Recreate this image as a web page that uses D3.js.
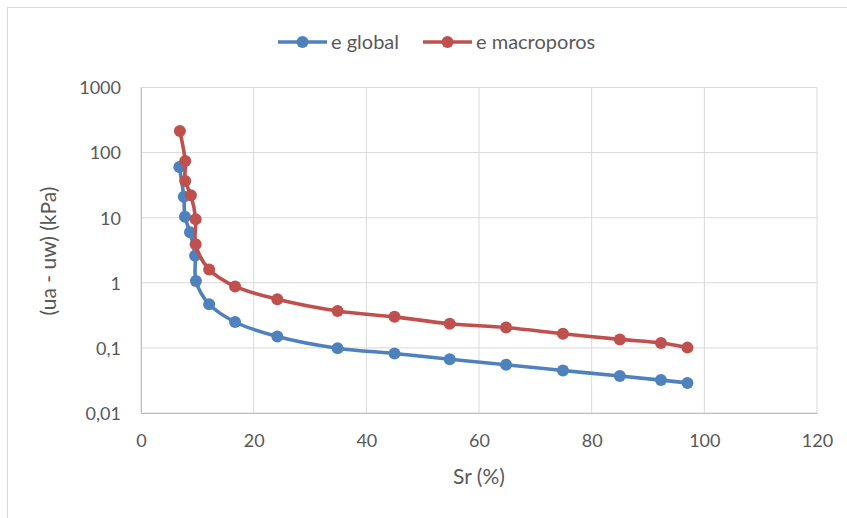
<!DOCTYPE html>
<html><head><meta charset="utf-8">
<script src="https://cdn.jsdelivr.net/npm/d3@7"></script>
<style>body{margin:0;background:#fff}svg{display:block}text{font-family:Lato,"Open Sans",sans-serif;fill:#595959}</style>
</head><body><svg id="c" width="847" height="518"></svg>
<script>
const seriesNames = ["e global", "e macroporos"];
const seriesColors = ["#4F81BD", "#C0504D"];
const srGlobal = [6.8, 7.6, 7.8, 8.7, 9.6, 9.75, 12.1, 16.7, 24.2, 34.9, 45.0, 54.8, 64.8, 74.9, 85.0, 92.3, 97.0];
const suctionGlobal = [60, 21, 10.3, 6.0, 2.6, 1.07, 0.47, 0.25, 0.15, 0.099, 0.082, 0.067, 0.055, 0.045, 0.037, 0.032, 0.029];
const srMacro = [6.9, 7.85, 7.85, 8.86, 9.7, 9.7, 12.1, 16.7, 24.2, 34.9, 45.0, 54.8, 64.8, 74.9, 85.0, 92.3, 97.0];
const suctionMacro = [214, 74, 36.5, 22.2, 9.5, 3.9, 1.6, 0.88, 0.56, 0.37, 0.30, 0.235, 0.205, 0.165, 0.135, 0.119, 0.101];
const xTicks = [0, 20, 40, 60, 80, 100, 120];
const yTicks = [0.01, 0.1, 1, 10, 100, 1000];
const yTickLabels = ["0,01", "0,1", "1", "10", "100", "1000"];

const svg = d3.select("#c");
const L = 141, R = 817, T = 87.5, B = 413;
svg.append("rect").attr("x", 7.5).attr("y", 7.5).attr("width", 850).attr("height", 530)
  .attr("fill", "none").attr("stroke", "#d9d9d9");
const x = d3.scaleLinear().domain([0, 120]).range([L, R]);
const y = d3.scaleLog().domain([0.01, 1000]).range([B, T]);

const grid = svg.append("g");
yTicks.forEach(t => grid.append("line").attr("x1", L).attr("x2", R).attr("y1", y(t)).attr("y2", y(t)).attr("stroke", "#d9d9d9").attr("stroke-width", 1));
xTicks.forEach(t => grid.append("line").attr("x1", x(t)).attr("x2", x(t)).attr("y1", T).attr("y2", B).attr("stroke", "#d9d9d9").attr("stroke-width", 1));

const xa = svg.append("g").attr("transform", `translate(0,${B})`)
  .call(d3.axisBottom(x).tickValues(xTicks).tickSize(0).tickPadding(21).tickFormat(d3.format("d")));
xa.select(".domain").attr("stroke", "#bfbfbf");
xa.selectAll("text").attr("font-size", 18).style("fill", "#595959");
const ya = svg.append("g").attr("transform", `translate(${L},0)`)
  .call(d3.axisLeft(y).tickValues(yTicks).tickSize(0).tickPadding(20).tickFormat((d, i) => yTickLabels[i]));
ya.select(".domain").attr("stroke", "#bfbfbf");
ya.selectAll("text").attr("font-size", 18).attr("dy", "0.35em").style("fill", "#595959");

svg.append("text").attr("x", x(60)).attr("y", 484).attr("text-anchor", "middle").attr("font-size", 21).text("Sr (%)");
svg.append("text").attr("transform", "translate(56,251) rotate(-90)").attr("text-anchor", "middle").attr("font-size", 21).text("(ua - uw) (kPa)");

const data = [
  srGlobal.map((s, i) => [s, suctionGlobal[i]]),
  srMacro.map((s, i) => [s, suctionMacro[i]])
];
const line = d3.line().x(d => x(d[0])).y(d => y(d[1])).curve(d3.curveCatmullRom.alpha(0.5));
data.forEach((ser, k) => {
  svg.append("path").attr("d", line(ser)).attr("fill", "none").attr("stroke", seriesColors[k]).attr("stroke-width", 3.6);
  svg.append("g").selectAll("circle").data(ser).join("circle")
    .attr("cx", d => x(d[0])).attr("cy", d => y(d[1])).attr("r", 6).attr("fill", seriesColors[k]);
});

const legX = [278, 423];
seriesNames.forEach((n, k) => {
  const g = svg.append("g");
  g.append("line").attr("x1", legX[k]).attr("x2", legX[k] + 49).attr("y1", 42).attr("y2", 42).attr("stroke", seriesColors[k]).attr("stroke-width", 3.6);
  g.append("circle").attr("cx", legX[k] + 24.5).attr("cy", 42).attr("r", 6).attr("fill", seriesColors[k]);
  g.append("text").attr("x", legX[k] + 53).attr("y", 42).attr("dy", "0.35em").attr("font-size", 20).text(n);
});
</script></body></html>
